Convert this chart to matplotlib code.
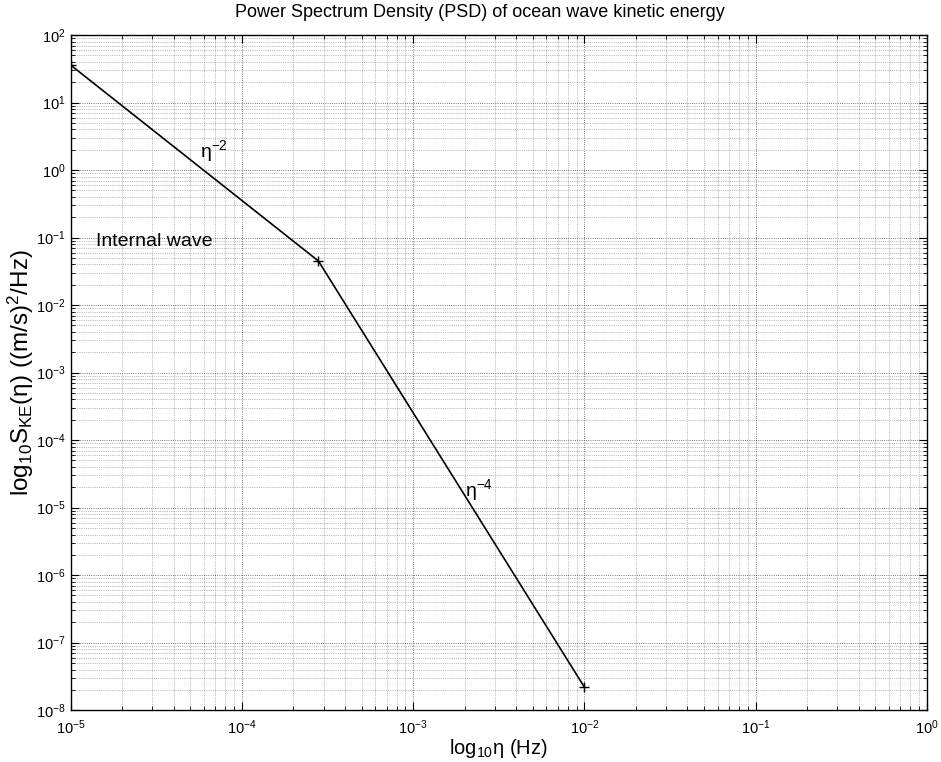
import matplotlib
matplotlib.use("Agg")
import matplotlib.pyplot as plt
from matplotlib.ticker import LogLocator, NullFormatter

freq_hz = [1e-5, 2.8e-4, 1e-2]
psd = [36.0, 0.045, 2.2e-8]

title = "Power Spectrum Density (PSD) of ocean wave kinetic energy"
xlabel = r"log$_{10}\eta$ (Hz)"
ylabel = r"log$_{10}$S$_{\mathrm{KE}}(\eta)$ ((m/s)$^2$/Hz)"

plt.rcParams['font.family'] = ['Liberation Sans', 'DejaVu Sans']
plt.rcParams['mathtext.fontset'] = 'custom'
plt.rcParams['mathtext.rm'] = 'Liberation Sans'
plt.rcParams['mathtext.it'] = 'Liberation Sans'
plt.rcParams['mathtext.default'] = 'regular'

fig = plt.figure(figsize=(9.41, 7.62), dpi=100)
ax = fig.add_axes([0.075, 0.068, 0.910, 0.886])

ax.loglog(freq_hz, psd, color='black', linewidth=1.2, marker='+',
          markersize=7, markeredgewidth=1.0)
ax.set_xlim(1e-5, 1e0)
ax.set_ylim(1e-8, 1e2)

ax.xaxis.set_major_locator(LogLocator(base=10, numticks=20))
ax.yaxis.set_major_locator(LogLocator(base=10, numticks=20))
ax.xaxis.set_minor_locator(LogLocator(base=10, subs=range(2, 10), numticks=100))
ax.yaxis.set_minor_locator(LogLocator(base=10, subs=range(2, 10), numticks=100))
ax.xaxis.set_minor_formatter(NullFormatter())
ax.yaxis.set_minor_formatter(NullFormatter())

ax.grid(True, which='major', linestyle=':', color='black', linewidth=0.6, alpha=0.7)
ax.grid(True, which='minor', linestyle=':', color='black', linewidth=0.5, alpha=0.5)

ax.tick_params(which='both', direction='in', top=True, right=True, labelsize=10.5)
ax.tick_params(axis='x', which='major', pad=6)
ax.tick_params(which='major', length=6)
ax.tick_params(which='minor', length=3)
for s in ax.spines.values():
    s.set_linewidth(1.0)

ax.set_title(title, fontsize=13, pad=13, x=0.478)
ax.set_xlabel(xlabel, fontsize=14.5, labelpad=0)
ax.set_ylabel(ylabel, fontsize=17.5, labelpad=0)

ax.text(5.7e-5, 1.55, r"$\eta^{-2}$", fontsize=14)
ax.text(1.4e-5, 0.075, "Internal wave", fontsize=14)
ax.text(2.0e-3, 1.5e-5, r"$\eta^{-4}$", fontsize=14)

fig.savefig("out.png", dpi=100)
